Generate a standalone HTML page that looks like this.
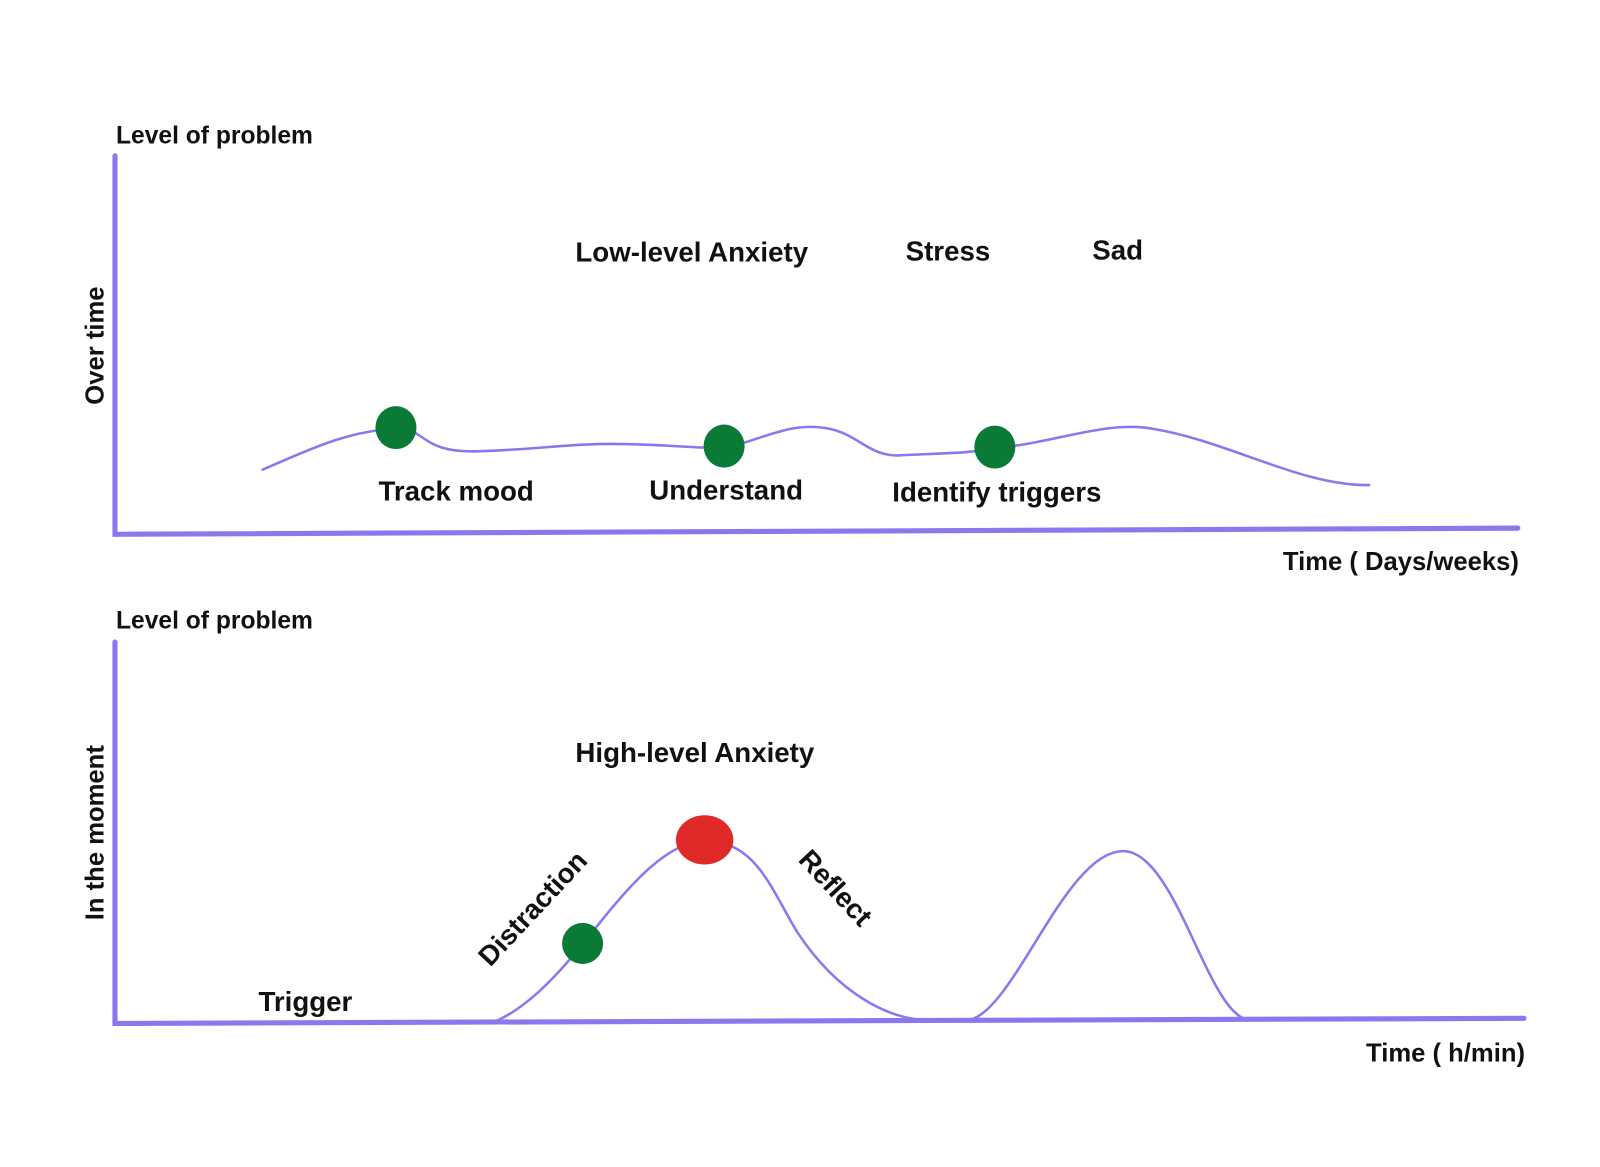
<!DOCTYPE html>
<html><head><meta charset="utf-8"><style>
html,body{margin:0;padding:0;background:#fff;}
svg{display:block;}
text{font-family:"Liberation Sans",sans-serif;fill:#111;font-weight:bold;}
</style></head><body>
<svg width="1600" height="1167" viewBox="0 0 1560 1138" xmlns="http://www.w3.org/2000/svg">
<g stroke="#8b78ee" stroke-linecap="round" fill="none">
<path d="M112 152 L112 521 L1480 515" stroke-width="5"/>
<path d="M112 626 L112 998 L1486 993" stroke-width="5"/>
<path d="M256 458 C298 440 338 420 386 418 C418 418 408 442 468 440 C528 438 558 432 608 433 C658 434 688 438 706 436 C738 432 768 410 808 418 C838 424 848 446 878 444 C918 442 948 442 970 437 C1028 432 1078 410 1123 418 C1198 430 1268 474 1335 473" stroke-width="2.5"/>
<path d="M485 995 C518 980 548 945 568 921 C608 870 648 820 688 820 C738 820 753 870 778 910 C818 970 868 995 908 995 L943 995 C988 990 1038 830 1095 830 C1148 830 1178 995 1220 995" stroke-width="2.5"/>
</g>
<ellipse cx="386" cy="417" rx="20" ry="21" fill="#0a7a36"/>
<ellipse cx="706" cy="435" rx="20" ry="21" fill="#0a7a36"/>
<ellipse cx="970" cy="436" rx="20" ry="21" fill="#0a7a36"/>
<ellipse cx="568" cy="920" rx="20" ry="20" fill="#0a7a36"/>
<ellipse cx="687" cy="819" rx="28" ry="24" fill="#e02a2a"/>
<text x="113" y="140" font-size="24">Level of problem</text>
<text x="561" y="255" font-size="27">Low-level Anxiety</text>
<text x="883" y="254" font-size="27">Stress</text>
<text x="1065" y="253" font-size="27">Sad</text>
<text x="369" y="488" font-size="27">Track mood</text>
<text x="633" y="487" font-size="27">Understand</text>
<text x="870" y="489" font-size="27">Identify triggers</text>
<text x="1481" y="556" font-size="25" text-anchor="end">Time ( Days/weeks)</text>
<text x="113" y="613" font-size="24">Level of problem</text>
<text x="561" y="743" font-size="27">High-level Anxiety</text>
<text x="252" y="986" font-size="27">Trigger</text>
<text x="1487" y="1035" font-size="25" text-anchor="end">Time ( h/min)</text>
<text transform="translate(101,337) rotate(-90)" font-size="25" text-anchor="middle">Over time</text>
<text transform="translate(101,812) rotate(-90)" font-size="25" text-anchor="middle">In the moment</text>
<text transform="translate(526,892) rotate(-47)" font-size="27" text-anchor="middle">Distraction</text>
<text transform="translate(808,872) rotate(47)" font-size="27" text-anchor="middle">Reflect</text>
</svg>
</body></html>
